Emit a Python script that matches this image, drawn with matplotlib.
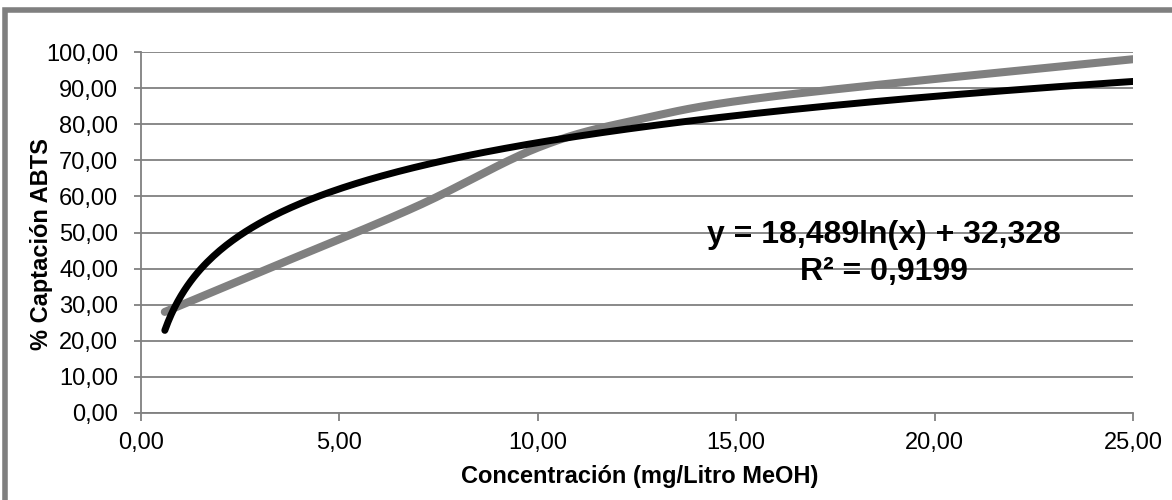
import numpy as np
import matplotlib
matplotlib.use("Agg")
import matplotlib.pyplot as plt
from matplotlib.patches import Rectangle

plt.rcParams['font.family'] = ['Liberation Sans', 'DejaVu Sans']

# valores
conc = [0.6, 3.1, 6.9, 10.0, 12.5, 16.0, 25.0]
captacion = [28.0, 39.5, 57.0, 73.5, 81.2, 87.8, 98.0]

# linea de tendencia logaritmica
coef_a = 18.489
coef_b = 32.328
ecuacion = "y = 18,489ln(x) + 32,328"
r2_texto = "R² = 0,9199"

y_ticks = [0, 10, 20, 30, 40, 50, 60, 70, 80, 90, 100]
x_ticks = [0, 5, 10, 15, 20, 25]


def suavizar(xs, ys, n=40):
    # curva suavizada tipo Excel (Catmull-Rom -> Bezier)
    p = np.column_stack([np.array(xs) / 25.0, np.array(ys) / 100.0])
    p = np.vstack([p[0], p, p[-1]])
    out = []
    t = np.linspace(0, 1, n)[:, None]
    for i in range(1, len(p) - 2):
        p0, p1, p2, p3 = p[i - 1], p[i], p[i + 1], p[i + 2]
        c1 = p1 + (p2 - p0) / 6
        c2 = p2 - (p3 - p1) / 6
        seg = (1 - t) ** 3 * p1 + 3 * (1 - t) ** 2 * t * c1 + 3 * (1 - t) * t ** 2 * c2 + t ** 3 * p2
        out.append(seg)
    out = np.vstack(out)
    return out[:, 0] * 25.0, out[:, 1] * 100.0


gris = "#808080"
fig = plt.figure(figsize=(11.72, 5.0), dpi=100)
ax = fig.add_axes([141 / 1172, 1 - 413 / 500, (1133 - 141) / 1172, (413 - 52) / 500])

# marco exterior
fig.patches.append(Rectangle((5 / 1172, -0.1), 1.2, 1 - 10 / 500 + 0.1, transform=fig.transFigure,
                             fill=False, edgecolor="#7f7f7f", linewidth=4, zorder=0))

sx, sy = suavizar(conc, captacion)
ax.plot(sx, sy, color=gris, linewidth=5.8, solid_capstyle="round", zorder=3)

xt = np.linspace(conc[0], 25, 300)
ax.plot(xt, coef_a * np.log(xt) + coef_b, color="black", linewidth=5.0,
        solid_capstyle="round", zorder=4)

ax.set_xlim(0, 25)
ax.set_ylim(0, 100)
ax.set_yticks(y_ticks)
ax.set_xticks(x_ticks)
ax.set_yticklabels([f"{v:.2f}".replace(".", ",") for v in y_ticks])
ax.set_xticklabels([f"{v:.2f}".replace(".", ",") for v in x_ticks])
ax.grid(axis="y", color=gris, linewidth=1.3)
ax.set_axisbelow(True)
for s in ["top", "right"]:
    ax.spines[s].set_visible(False)
for s in ["left", "bottom"]:
    ax.spines[s].set_color(gris)
    ax.spines[s].set_linewidth(1.3)
ax.tick_params(axis="both", colors=gris, length=5.4, width=1.3, labelsize=17, labelcolor="black")
ax.tick_params(axis="y", pad=11)
ax.tick_params(axis="x", pad=8)

fig.text(640 / 1172, 1 - 476 / 500, "Concentración (mg/Litro MeOH)", ha="center", va="center",
         fontsize=17, fontweight="bold")
fig.text(42 / 1172, 1 - 244 / 500, "% Captación ABTS", ha="center", va="center", rotation=90,
         fontsize=17, fontweight="bold")

ax.text(884 / 1172, 1 - 235 / 500, ecuacion, transform=fig.transFigure, ha="center", va="center",
        fontsize=23, fontweight="bold", zorder=5)
ax.text(884 / 1172, 1 - 272 / 500, r2_texto, transform=fig.transFigure, ha="center", va="center",
        fontsize=23, fontweight="bold", zorder=5)

fig.savefig("out.png", dpi=100)
